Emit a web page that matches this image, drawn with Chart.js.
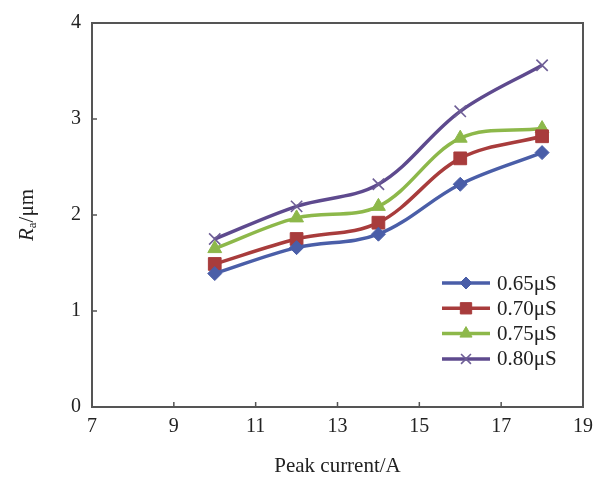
<!DOCTYPE html>
<html>
<head>
<meta charset="utf-8">
<script src="https://cdn.jsdelivr.net/npm/chart.js@4.4.1/dist/chart.umd.min.js"></script>
<style>
  html, body { margin: 0; padding: 0; background: #fff; }
  #wrap { width: 606px; height: 483px; }
</style>
</head>
<body>
<div id="wrap"><canvas id="chart" width="606" height="483"></canvas></div>
<script>
// peak current (A) on x, surface roughness Ra (um) on y
const currents = [10, 12, 14, 16, 18];
const ra065 = [1.39, 1.66, 1.80, 2.32, 2.65];
const ra070 = [1.49, 1.75, 1.92, 2.59, 2.82];
const ra075 = [1.65, 1.97, 2.09, 2.80, 2.90];
const ra080 = [1.75, 2.09, 2.32, 3.08, 3.56];
const seriesLabels = ['0.65\u03bcS', '0.70\u03bcS', '0.75\u03bcS', '0.80\u03bcS'];
const xTicks = [7, 9, 11, 13, 15, 17, 19];
const yTicks = [0, 1, 2, 3, 4];

const serif = '"Liberation Serif", "Times New Roman", serif';

const styles = [
    { color: '#4a5ea8', point: 'rectRot', radius: 7, pointColor: '#4a5ea8', pointBorder: 1 },
    { color: '#a83c3c', point: 'rect', radius: 9, pointColor: '#a83c3c', pointBorder: 1 },
    { color: '#8db84a', point: 'triangle', radius: 8, pointColor: '#8db84a', pointBorder: 1 },
    { color: '#5e4a8e', point: 'crossRot', radius: 8, pointColor: '#6e5e96', pointBorder: 1.6 }
];

const values = [ra065, ra070, ra075, ra080];

const datasets = values.map((vals, i) => ({
    label: seriesLabels[i],
    data: currents.map((x, j) => ({ x: x, y: vals[j] })),
    borderColor: styles[i].color,
    backgroundColor: styles[i].pointColor,
    borderWidth: 3.5,
    tension: 0.35,
    showLine: true,
    pointStyle: styles[i].point,
    pointRadius: styles[i].radius,
    pointBackgroundColor: styles[i].pointColor,
    pointBorderColor: styles[i].pointColor,
    pointBorderWidth: styles[i].pointBorder
}));

// box, inward ticks, y title and the legend inside the plot
const decorations = {
    id: 'decorations',
    afterDraw(chart) {
        const ctx = chart.ctx;
        const area = chart.chartArea;
        const xs = chart.scales.x;
        const ys = chart.scales.y;

        ctx.save();
        ctx.strokeStyle = '#555';
        ctx.lineWidth = 2;
        ctx.strokeRect(area.left, area.top, area.right - area.left, area.bottom - area.top);

        ctx.lineWidth = 1.5;
        ctx.beginPath();
        xTicks.slice(1, -1).forEach((t) => {
            const px = xs.getPixelForValue(t);
            ctx.moveTo(px, area.bottom);
            ctx.lineTo(px, area.bottom - 5);
        });
        yTicks.slice(1, -1).forEach((t) => {
            const py = ys.getPixelForValue(t);
            ctx.moveTo(area.left, py);
            ctx.lineTo(area.left + 5, py);
        });
        ctx.stroke();

        // y axis title: R (italic) with subscript a, then /um
        ctx.translate(27, (area.top + area.bottom) / 2);
        ctx.rotate(-Math.PI / 2);
        ctx.fillStyle = '#222';
        ctx.textBaseline = 'middle';
        const partR = 'R';
        const partSub = 'a';
        const partRest = '/\u03bcm';
        ctx.font = 'italic 21px ' + serif;
        const wR = ctx.measureText(partR).width;
        ctx.font = '13px ' + serif;
        const wSub = ctx.measureText(partSub).width;
        ctx.font = '21px ' + serif;
        const wRest = ctx.measureText(partRest).width;
        let sx = -(wR + wSub + wRest) / 2;
        ctx.font = 'italic 21px ' + serif;
        ctx.fillText(partR, sx, 0);
        sx += wR;
        ctx.font = '13px ' + serif;
        ctx.fillText(partSub, sx, 6);
        sx += wSub;
        ctx.font = '21px ' + serif;
        ctx.fillText(partRest, sx, 0);
        ctx.restore();

        // legend
        ctx.save();
        const lx0 = area.right - 141;
        const lx1 = area.right - 93;
        const tx = area.right - 86;
        chart.data.datasets.forEach((ds, i) => {
            const ly = area.bottom - 124 + i * 25.3;
            ctx.strokeStyle = ds.borderColor;
            ctx.lineWidth = 3.5;
            ctx.beginPath();
            ctx.moveTo(lx0, ly);
            ctx.lineTo(lx1, ly);
            ctx.stroke();
            ctx.fillStyle = ds.pointBackgroundColor;
            ctx.strokeStyle = ds.pointBorderColor;
            ctx.lineWidth = ds.pointBorderWidth;
            Chart.helpers.drawPoint(ctx, {
                pointStyle: ds.pointStyle,
                radius: ds.pointRadius - 1,
                rotation: 0,
                borderWidth: ds.pointBorderWidth
            }, (lx0 + lx1) / 2, ly);
            ctx.fillStyle = '#222';
            ctx.font = '21px ' + serif;
            ctx.textBaseline = 'middle';
            ctx.textAlign = 'left';
            ctx.fillText(ds.label, tx, ly + 1);
        });
        ctx.restore();
    }
};

new Chart(document.getElementById('chart'), {
    type: 'scatter',
    data: { datasets },
    options: {
        responsive: false,
        animation: false,
        layout: { padding: { left: 0, right: 23, top: 21, bottom: 0 } },
        plugins: {
            legend: { display: false },
            tooltip: { enabled: false }
        },
        scales: {
            x: {
                type: 'linear',
                min: 7,
                max: 19,
                afterBuildTicks: (scale) => { scale.ticks = xTicks.map((v) => ({ value: v })); },
                afterFit: (scale) => { scale.height = 76; },
                ticks: {
                    color: '#222',
                    padding: 8,
                    maxRotation: 0,
                    autoSkip: false,
                    font: { family: serif, size: 20 }
                },
                grid: { display: false, drawTicks: false },
                border: { display: false },
                title: {
                    display: true,
                    text: 'Peak current/A',
                    color: '#222',
                    padding: { top: 0, bottom: 4 },
                    font: { family: serif, size: 21 }
                }
            },
            y: {
                type: 'linear',
                min: 0,
                max: 4,
                afterBuildTicks: (scale) => { scale.ticks = yTicks.map((v) => ({ value: v })); },
                afterFit: (scale) => { scale.width = 92; },
                ticks: {
                    color: '#222',
                    padding: 11,
                    font: { family: serif, size: 20 }
                },
                grid: { display: false, drawTicks: false },
                border: { display: false }
            }
        }
    },
    plugins: [decorations]
});
</script>
</body>
</html>
